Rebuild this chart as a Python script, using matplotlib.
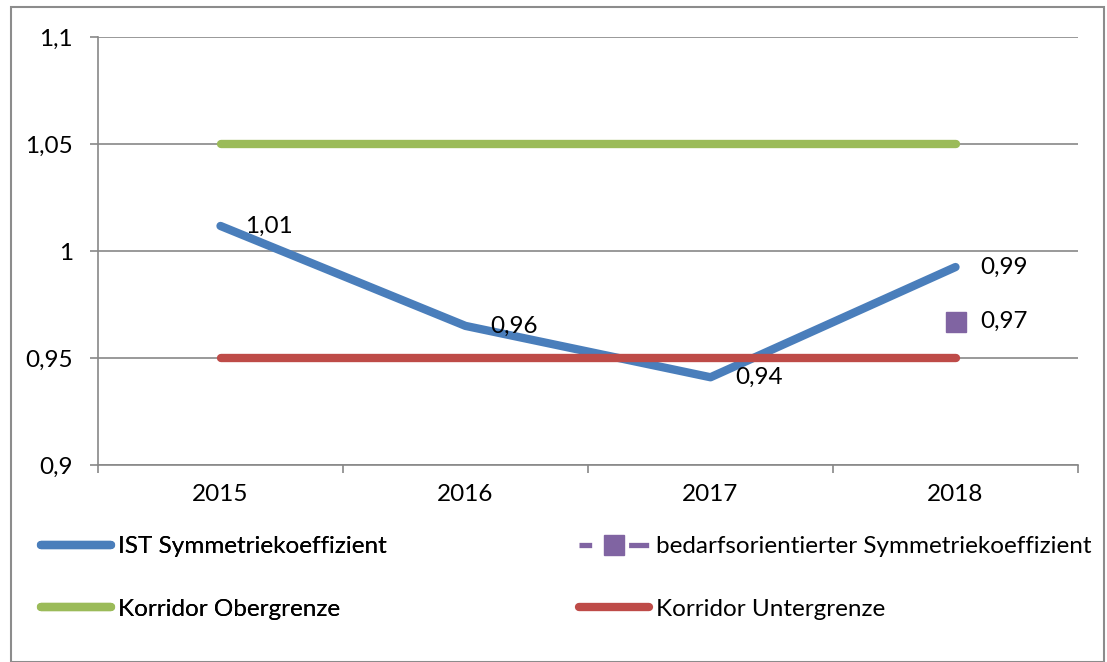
import numpy as np
import matplotlib
matplotlib.use("Agg")
import matplotlib.pyplot as plt
from matplotlib.ticker import FuncFormatter, FixedLocator
from matplotlib.patches import Rectangle

plt.rcParams['font.family'] = ['Lato', 'DejaVu Sans']

# data
years = ['2015', '2016', '2017', '2018']
ist = [1.0117, 0.965, 0.941, 0.9925]
bedarf = [np.nan, np.nan, np.nan, 0.967]
ober = [1.05, 1.05, 1.05, 1.05]
unter = [0.95, 0.95, 0.95, 0.95]
ist_labels = ['1,01', '0,96', '0,94', '0,99']
bedarf_labels = [None, None, None, '0,97']

blue = '#4a7ebb'
green = '#9bbb59'
red = '#be4b48'
purple = '#8064a2'
grid = '#888888'
fs = 17.5

fig = plt.figure(figsize=(11.07, 6.62), dpi=100)
ax = fig.add_axes([98/1107, 1 - 465/662, 980/1107, 428/662])

x = np.arange(len(years))
lw = 6
l_ober, = ax.plot(x, ober, color=green, lw=lw, solid_capstyle='round', label='Korridor Obergrenze', zorder=3)
l_unter, = ax.plot(x, unter, color=red, lw=lw, solid_capstyle='round', label='Korridor Untergrenze', zorder=4)
l_ist, = ax.plot(x, ist, color=blue, lw=lw, solid_capstyle='round', solid_joinstyle='round',
                 label='IST Symmetriekoeffizient', zorder=3.5)
l_bed, = ax.plot(x, bedarf, color=purple, lw=3.8, ls=(0, (2.4, 7.0, 3.8, 5.0)), marker='s', ms=14,
                 label='bedarfsorientierter Symmetriekoeffizient', zorder=5)

for i, t in enumerate(ist_labels):
    ax.annotate(t, (x[i], ist[i]), xytext=(18, 0), textcoords='offset points',
                va='center', ha='left', fontsize=fs, zorder=6)
for i, t in enumerate(bedarf_labels):
    if t:
        ax.annotate(t, (x[i], bedarf[i]), xytext=(18, 0), textcoords='offset points',
                    va='center', ha='left', fontsize=fs, zorder=6)

ax.set_xlim(-0.5, 3.5)
ax.set_ylim(0.9, 1.1)
ax.set_yticks([0.9, 0.95, 1.0, 1.05, 1.1])
ax.yaxis.set_major_formatter(FuncFormatter(lambda v, p: ('%g' % round(v, 2)).replace('.', ',')))
ax.yaxis.grid(True, color=grid, lw=1.2)
ax.set_axisbelow(True)

ax.xaxis.set_major_locator(FixedLocator([-0.5, 0.5, 1.5, 2.5, 3.5]))
ax.xaxis.set_minor_locator(FixedLocator(x))
ax.set_xticklabels([], minor=False)
ax.set_xticklabels(years, minor=True)
ax.tick_params(axis='x', which='major', length=6, color=grid, width=1.2, direction='out')
ax.tick_params(axis='x', which='minor', length=0, pad=14, labelsize=fs)
ax.tick_params(axis='y', length=6, color=grid, width=1.2, labelsize=fs, pad=12)

for s in ['top', 'right']:
    ax.spines[s].set_visible(False)
for s in ['left', 'bottom']:
    ax.spines[s].set_color(grid)
    ax.spines[s].set_linewidth(1.2)

# legend: two columns placed separately
leg_kw = dict(loc='upper left', frameon=False, fontsize=fs, handlelength=2.9,
              handletextpad=0.25, labelspacing=1.72, borderpad=0, borderaxespad=0)
leg1 = fig.legend([l_ist, l_ober], [l_ist.get_label(), l_ober.get_label()],
                  bbox_to_anchor=(41/1107, 1 - 536/662), **leg_kw)
leg2 = fig.legend([l_bed, l_unter], [l_bed.get_label(), l_unter.get_label()],
                  bbox_to_anchor=(579/1107, 1 - 536/662), **leg_kw)
fig.add_artist(leg1)

fig.patches.append(Rectangle((11/1107, 0), 1 - 14/1107, 1 - 7/662, transform=fig.transFigure,
                             fill=False, edgecolor='#8c8c8c', lw=1.5))

fig.savefig('out.png', dpi=100)
